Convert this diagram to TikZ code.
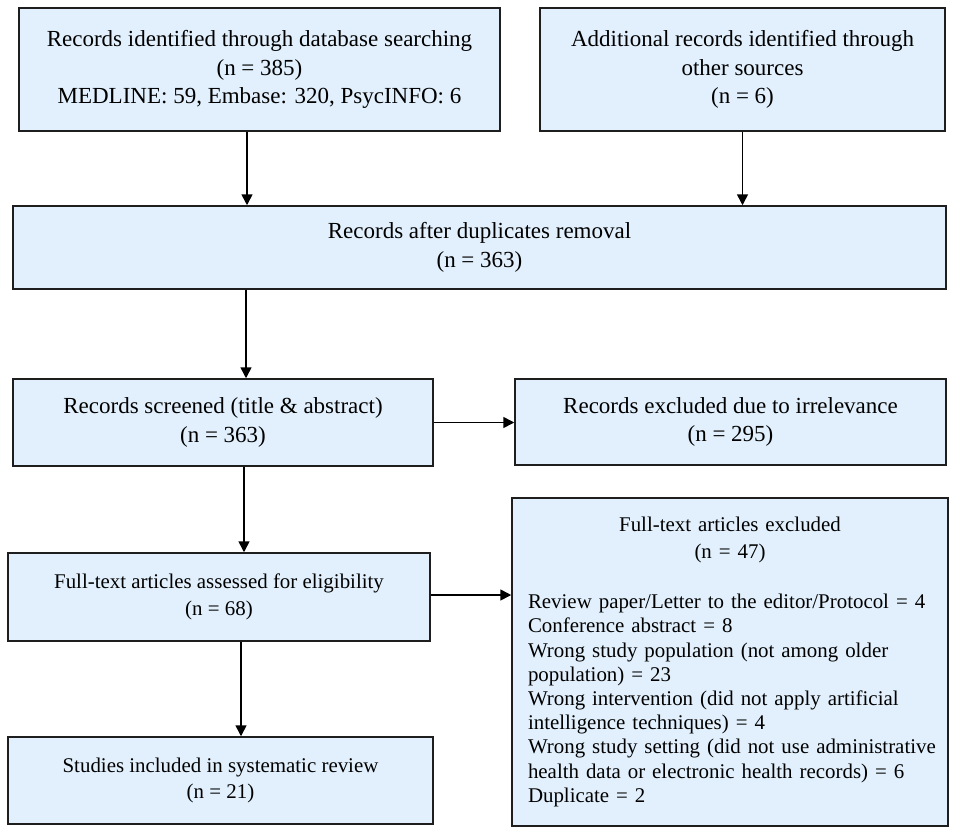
\documentclass[tikz,border=0pt]{standalone}
\usepackage{fontspec}
\setmainfont{Liberation Serif}
\usetikzlibrary{arrows.meta}
\definecolor{boxfill}{RGB}{225,240,252}
\definecolor{edge}{RGB}{30,30,30}
\begin{document}
\begin{tikzpicture}[x=1pt,y=-1pt,
  box/.style={draw=edge, line width=1.5pt, fill=boxfill, align=center, inner sep=0pt,
    font=\fontsize{23}{28.5}\selectfont},
  smallbox/.style={box, font=\fontsize{20.9}{26.5}\selectfont},
  arr/.style={-{Triangle[length=11pt,width=11pt]}, line width=1.6pt, draw=black}]
\fill[white] (0,0) rectangle (957,832);
\useasboundingbox (0,0) rectangle (957,832);
\node[box, minimum width=481pt, minimum height=123pt] (b1) at (259.5,69.5)
  {Records identified through database searching\\(n = 385)\\MEDLINE: 59, Embase: 320, PsycINFO: 6};
\node[box, minimum width=405pt, minimum height=123pt] (b2) at (742.5,69.5)
  {Additional records identified through\\other sources\\(n = 6)};
\node[box, minimum width=933pt, minimum height=83pt] (b3) at (479.5,247.5)
  {Records after duplicates removal\\(n = 363)};
\node[box, minimum width=420pt, minimum height=87pt] (b4) at (223,422.5)
  {Records screened (title \& abstract)\\(n = 363)};
\node[box, minimum width=431pt, minimum height=86pt] (b5) at (730.5,422)
  {Records excluded due to irrelevance\\(n = 295)};
\node[smallbox, minimum width=422pt, minimum height=88pt] (b6) at (219,597)
  {Full-text articles assessed for eligibility\\(n = 68)};
\node[smallbox, minimum width=425pt, minimum height=87pt] (b7) at (220.5,780.5)
  {Studies included in systematic review\\(n = 21)};
\node[box, align=left, text width=404pt, inner xsep=16pt, inner ysep=0pt,
  minimum width=436pt, minimum height=328pt,
  font=\fontsize{20.9}{24.2}\selectfont] (b8) at (730,662)
  {\makebox[404pt][c]{Full-text articles excluded}\\[2.8pt]
   \makebox[404pt][c]{(n = 47)}\\[25.8pt]
   \mbox{Review paper/Letter to the editor/Protocol = 4}\\
   \mbox{Conference abstract = 8}\\
   \mbox{Wrong study population (not among older}\\
   \mbox{population) = 23}\\
   \mbox{Wrong intervention (did not apply artificial}\\
   \mbox{intelligence techniques) = 4}\\
   \mbox{Wrong study setting (did not use administrative}\\
   \mbox{health data or electronic health records) = 6}\\
   \mbox{Duplicate = 2}};
\draw[arr] ([xshift=-12.5pt]b1.south) -- ([xshift=-12.5pt]b1.south |- b3.north);
\draw[arr] (b2.south) -- (b2.south |- b3.north);
\draw[arr] ([xshift=23pt]b4.north |- b3.south) -- ([xshift=23pt]b4.north);
\draw[arr] (b4.east) -- (b4.east -| b5.west);
\draw[arr] ([xshift=21pt]b4.south) -- ([xshift=21pt]b4.south |- b6.north);
\draw[arr] ([yshift=2pt]b6.east) -- ([yshift=2pt]b6.east -| b8.west);
\draw[arr] ([xshift=22pt]b6.south) -- ([xshift=22pt]b6.south |- b7.north);
\end{tikzpicture}
\end{document}
